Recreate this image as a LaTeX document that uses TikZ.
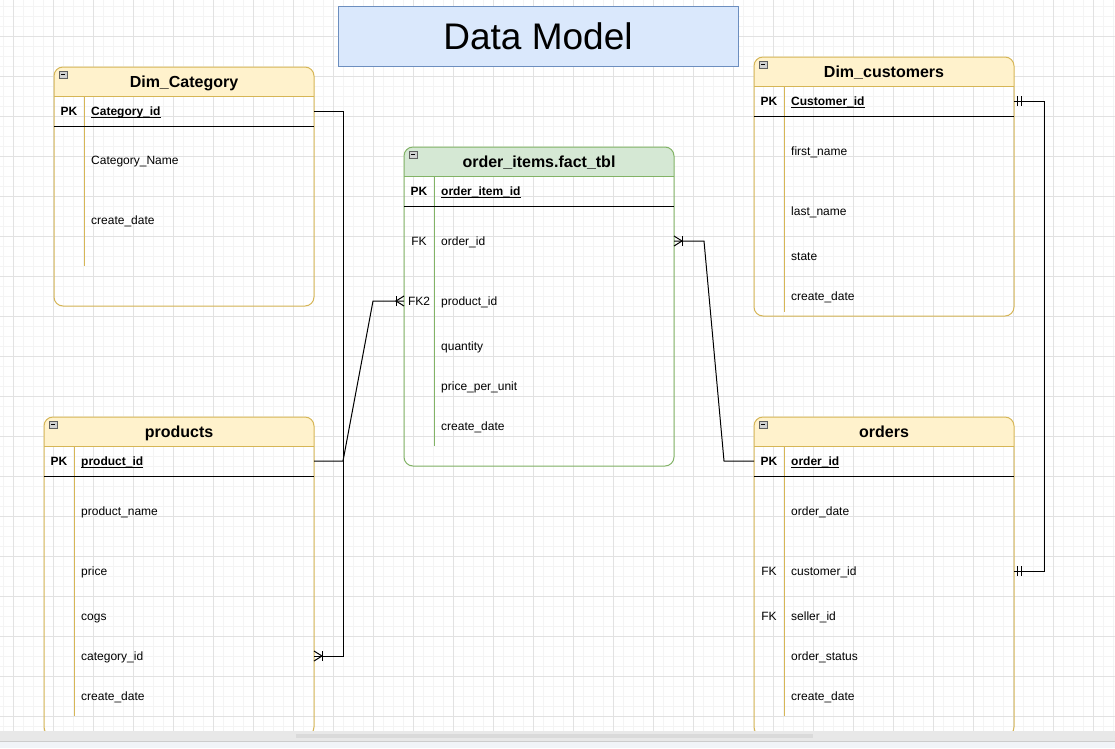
\documentclass[tikz,border=0pt]{standalone}
\usepackage{fontspec}
\setmainfont{Liberation Sans}
\definecolor{ylfill}{HTML}{FFF2CC}
\definecolor{yldraw}{HTML}{D6B656}
\definecolor{grfill}{HTML}{D5E8D4}
\definecolor{grdraw}{HTML}{82B366}
\definecolor{blfill}{HTML}{DAE8FC}
\definecolor{bldraw}{HTML}{6C8EBF}
\definecolor{gridmin}{HTML}{F4F4F4}
\definecolor{gridmaj}{HTML}{E2E2E2}
\definecolor{sbar}{HTML}{E8E8E8}
\definecolor{sthumb}{HTML}{DADADA}
\definecolor{sbot}{HTML}{F1F4F8}
\newcommand\myul[1]{\setbox0\hbox{#1}\rlap{\rule[-2pt]{\wd0}{0.8pt}}\box0}
% x1 y1 x2 y2 headerbottom fill draw
\newcommand\ertable[7]{%
  \begin{scope}
    \clip (#1-2,#2-2) rectangle (#3+2,#5);
    \fill[#6,rounded corners=9pt] (#1,#2) rectangle (#3,#4);
  \end{scope}
  \draw[#7,line width=1pt,rounded corners=9pt] (#1,#2) rectangle (#3,#4);
  \draw[#7,line width=1pt] (#1,#5) -- (#3,#5);
  \draw[fill=gray!35,draw=gray!75!black,line width=0.6pt] (#1+5,#2+4) rectangle (#1+13,#2+11);
  \draw[line width=0.8pt] (#1+7,#2+7.5) -- (#1+11,#2+7.5);
}
\begin{document}
\begin{tikzpicture}[x=1pt,y=-1pt,
  rowt/.style={anchor=base west,inner sep=0pt,font=\fontsize{12}{14}\selectfont},
  keyt/.style={rowt,font=\fontsize{12}{14}\selectfont\bfseries},
  pkt/.style={anchor=base,inner sep=0pt,font=\fontsize{12}{14}\selectfont},
  pkb/.style={pkt,font=\fontsize{12}{14}\selectfont\bfseries},
  hdrt/.style={anchor=base,inner sep=0pt,font=\fontsize{16}{18}\selectfont\bfseries},
  conn/.style={line width=1pt,black},
  sepline/.style={line width=1pt,black},
]
\useasboundingbox (0,0) rectangle (1115,748);
\fill[white] (0,0) rectangle (1115,748);
% grid
\foreach \x in {3,13,...,1113} \draw[gridmin,line width=1pt] (\x,0) -- (\x,731);
\foreach \y in {6,16,...,730} \draw[gridmin,line width=1pt] (0,\y) -- (1115,\y);
\foreach \x in {13,53,...,1113} \draw[gridmaj,line width=1pt] (\x,0) -- (\x,731);
\foreach \y in {36,76,...,730} \draw[gridmaj,line width=1pt] (0,\y) -- (1115,\y);

% title
\node[draw=bldraw,fill=blfill,line width=1pt,minimum width=400pt,minimum height=60pt,inner sep=0pt] (titlebox) at (538,36) {};
\node[anchor=base,inner sep=0pt,font=\fontsize{37}{40}\selectfont] (title) at (538,49) {Data Model};

% ---------------- Dim_Category
\ertable{54}{67}{314}{306}{96}{ylfill}{yldraw}
\draw[yldraw,line width=1pt] (84,96) -- (84,266);
\draw[sepline] (54,126) -- (314,126);
\node[hdrt] (dcat-h) at (184,87.2) {Dim\_Category};
\node[pkb] (dcat-pk) at (69,115.3) {PK};
\node[keyt] (dcat-id) at (91,115.3) {\myul{Category\_id}};
\node[rowt] (dcat-name) at (91,164.3) {Category\_Name};
\node[rowt] (dcat-cd) at (91,224.3) {create\_date};
\coordinate (dcat-idR) at (314,111);

% ---------------- order_items.fact_tbl
\ertable{404}{147}{674}{466}{176}{grfill}{grdraw}
\draw[grdraw,line width=1pt] (434,176) -- (434,446);
\draw[sepline] (404,206) -- (674,206);
\node[hdrt] (oi-h) at (539,167.2) {order\_items.fact\_tbl};
\node[pkb] (oi-pk) at (419,195.3) {PK};
\node[keyt] (oi-id) at (441,195.3) {\myul{order\_item\_id}};
\node[pkt] (oi-fk) at (419,245.3) {FK};
\node[rowt] (oi-oid) at (441,245.3) {order\_id};
\node[pkt] (oi-fk2) at (419,305.3) {FK2};
\node[rowt] (oi-pid) at (441,305.3) {product\_id};
\node[rowt] (oi-qty) at (441,350.3) {quantity};
\node[rowt] (oi-ppu) at (441,390.3) {price\_per\_unit};
\node[rowt] (oi-cd) at (441,430.3) {create\_date};
\coordinate (oi-oidR) at (674,241);
\coordinate (oi-pidL) at (404,301);

% ---------------- Dim_customers
\ertable{754}{57}{1014}{316}{86}{ylfill}{yldraw}
\draw[yldraw,line width=1pt] (784,86) -- (784,312);
\draw[sepline] (754,116) -- (1014,116);
\node[hdrt] (dcu-h) at (884,77.2) {Dim\_customers};
\node[pkb] (dcu-pk) at (769,105.3) {PK};
\node[keyt] (dcu-id) at (791,105.3) {\myul{Customer\_id}};
\node[rowt] (dcu-fn) at (791,155.3) {first\_name};
\node[rowt] (dcu-ln) at (791,215.3) {last\_name};
\node[rowt] (dcu-st) at (791,260.3) {state};
\node[rowt] (dcu-cd) at (791,300.3) {create\_date};
\coordinate (dcu-idR) at (1014,101);

% ---------------- products
\ertable{44}{417}{314}{736}{446}{ylfill}{yldraw}
\draw[yldraw,line width=1pt] (74,446) -- (74,716);
\draw[sepline] (44,476) -- (314,476);
\node[hdrt] (pr-h) at (179,437.2) {products};
\node[pkb] (pr-pk) at (59,465.3) {PK};
\node[keyt] (pr-id) at (81,465.3) {\myul{product\_id}};
\node[rowt] (pr-name) at (81,515.3) {product\_name};
\node[rowt] (pr-price) at (81,575.3) {price};
\node[rowt] (pr-cogs) at (81,620.3) {cogs};
\node[rowt] (pr-cat) at (81,660.3) {category\_id};
\node[rowt] (pr-cd) at (81,700.3) {create\_date};
\coordinate (pr-idR) at (314,461);
\coordinate (pr-catR) at (314,656);

% ---------------- orders
\ertable{754}{417}{1014}{736}{446}{ylfill}{yldraw}
\draw[yldraw,line width=1pt] (784,446) -- (784,716);
\draw[sepline] (754,476) -- (1014,476);
\node[hdrt] (or-h) at (884,437.2) {orders};
\node[pkb] (or-pk) at (769,465.3) {PK};
\node[keyt] (or-id) at (791,465.3) {\myul{order\_id}};
\node[rowt] (or-od) at (791,515.3) {order\_date};
\node[pkt] (or-fk1) at (769,575.3) {FK};
\node[rowt] (or-cid) at (791,575.3) {customer\_id};
\node[pkt] (or-fk2) at (769,620.3) {FK};
\node[rowt] (or-sid) at (791,620.3) {seller\_id};
\node[rowt] (or-os) at (791,660.3) {order\_status};
\node[rowt] (or-cd) at (791,700.3) {create\_date};
\coordinate (or-idL) at (754,461);
\coordinate (or-cidR) at (1014,571);

% ---------------- connectors
\draw[conn] (dcat-idR) -- ++(29,0) |- (pr-catR);
\draw[conn] (pr-catR) ++(0,-5) -- ++(8,5) -- ++(-8,5);
\draw[conn] (pr-catR) ++(8,-5) -- ++(0,10);

\draw[conn] (pr-idR) -- ++(29,0) -- (373,301) -- (oi-pidL);
\draw[conn] (oi-pidL) ++(0,-5) -- ++(-8,5) -- ++(8,5);
\draw[conn] (oi-pidL) ++(-8,-5) -- ++(0,10);

\draw[conn] (or-idL) -- ++(-30,0) -- (704,241) -- (oi-oidR);
\draw[conn] (oi-oidR) ++(0,-5) -- ++(8,5) -- ++(-8,5);
\draw[conn] (oi-oidR) ++(8,-5) -- ++(0,10);

\draw[conn] (dcu-idR) -- ++(30,0) |- (or-cidR);
\draw[conn] (dcu-idR) ++(3,-5) -- ++(0,10);
\draw[conn] (dcu-idR) ++(7,-5) -- ++(0,10);
\draw[conn] (or-cidR) ++(3,-5) -- ++(0,10);
\draw[conn] (or-cidR) ++(7,-5) -- ++(0,10);

% ---------------- scrollbar
\fill[sbar] (0,731) rectangle (1115,741);
\fill[sthumb] (296,733.5) rectangle (813,737.5);
\fill[sbot] (0,741) rectangle (1115,748);
\draw[gray!40,line width=0.8pt] (0,741) -- (1115,741);
\end{tikzpicture}
\end{document}
